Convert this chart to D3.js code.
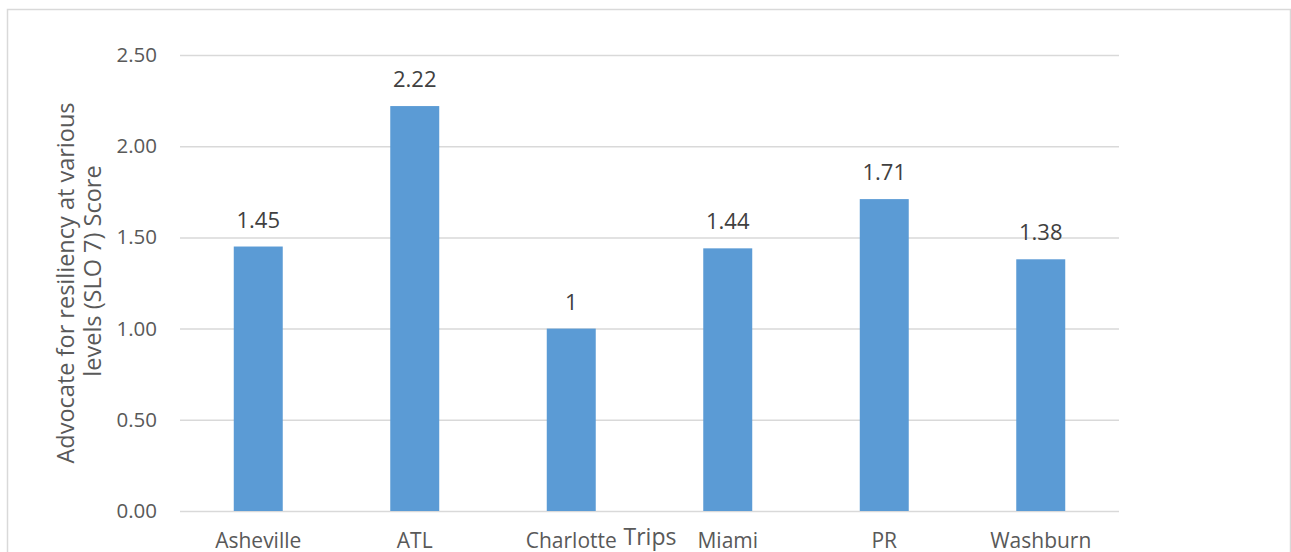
<!DOCTYPE html>
<html>
<head>
<meta charset="utf-8">
<script src="https://cdn.jsdelivr.net/npm/d3@7"></script>
<style>
  html, body { margin: 0; padding: 0; background: #fff; }
  svg { display: block; font-family: "Open Sans", sans-serif; }
</style>
</head>
<body>
<div id="chart"></div>
<script>
// chart data
var trips = ["Asheville", "ATL", "Charlotte", "Miami", "PR", "Washburn"];
var scores = [1.45, 2.22, 1, 1.44, 1.71, 1.38];
var scoreLabels = ["1.45", "2.22", "1", "1.44", "1.71", "1.38"];
var yTicks = [0, 0.5, 1, 1.5, 2, 2.5];

var width = 1291,
    height = 552;

var plot = {left: 180, right: 1119, top: 55, bottom: 511};

var svg = d3.select("#chart").append("svg")
    .attr("width", width)
    .attr("height", height);

// outer chart border (bottom runs off the picture)
svg.append("rect")
    .attr("x", 7.5)
    .attr("y", 9.5)
    .attr("width", 1283)
    .attr("height", 600)
    .attr("fill", "none")
    .attr("stroke", "#d9d9d9")
    .attr("stroke-width", 1.5);

var x = d3.scaleBand()
    .domain(trips)
    .range([plot.left, plot.right])
    .paddingInner(0.687)
    .paddingOuter(0.3435);

var y = d3.scaleLinear()
    .domain([0, 2.5])
    .range([plot.bottom, plot.top]);

// gridlines + y tick labels
var yAxis = d3.axisLeft(y)
    .tickValues(yTicks)
    .tickSize(-(plot.right - plot.left))
    .tickPadding(23)
    .tickFormat(d3.format(".2f"));

var gy = svg.append("g")
    .attr("transform", "translate(" + plot.left + ",0)")
    .call(yAxis);
gy.select(".domain").remove();
gy.selectAll(".tick line")
    .attr("stroke", "#d9d9d9")
    .attr("stroke-width", 1.5);
gy.selectAll(".tick text")
    .attr("fill", "#595959")
    .style("font-size", "20.5px")
    .style("font-family", "'Open Sans', sans-serif");

// bars
svg.selectAll(".bar")
    .data(scores)
    .enter().append("rect")
    .attr("class", "bar")
    .attr("x", function(d, i) { return x(trips[i]); })
    .attr("y", function(d) { return y(d); })
    .attr("width", x.bandwidth())
    .attr("height", function(d) { return y(0) - y(d); })
    .attr("fill", "#5b9bd5");

// value labels
svg.selectAll(".val")
    .data(scores)
    .enter().append("text")
    .attr("class", "val")
    .attr("x", function(d, i) { return x(trips[i]) + x.bandwidth() / 2; })
    .attr("y", function(d) { return y(d) - 19; })
    .attr("text-anchor", "middle")
    .attr("fill", "#404040")
    .style("font-size", "22px")
    .text(function(d, i) { return scoreLabels[i]; });

// category labels
var xAxis = d3.axisBottom(x).tickSize(0).tickPadding(22);
var gx = svg.append("g")
    .attr("transform", "translate(0," + plot.bottom + ")")
    .call(xAxis);
gx.select(".domain").remove();
gx.selectAll(".tick text")
    .attr("fill", "#595959")
    .style("font-size", "21px")
    .style("font-family", "'Open Sans', sans-serif");

// x axis title
svg.append("text")
    .attr("x", 650)
    .attr("y", 545)
    .attr("text-anchor", "middle")
    .attr("fill", "#595959")
    .style("font-size", "23px")
    .text("Trips");

// y axis title, two lines
svg.append("text")
    .attr("transform", "translate(74,283) rotate(-90)")
    .attr("text-anchor", "middle")
    .attr("fill", "#595959")
    .style("font-size", "23.5px")
    .text("Advocate for resiliency at various");
svg.append("text")
    .attr("transform", "translate(101,271) rotate(-90)")
    .attr("text-anchor", "middle")
    .attr("fill", "#595959")
    .style("font-size", "23.5px")
    .text("levels (SLO 7) Score");
</script>
</body>
</html>
